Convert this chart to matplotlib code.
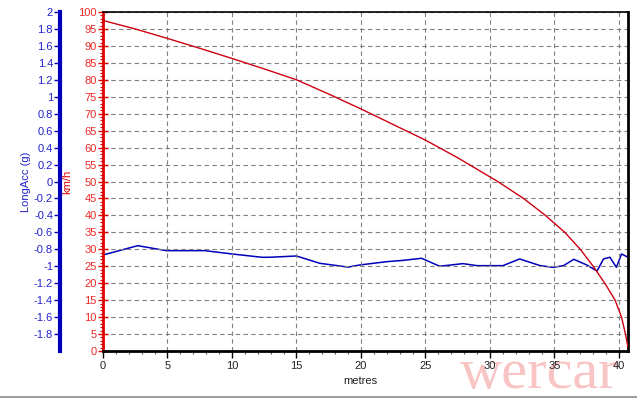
import matplotlib
matplotlib.use("Agg")
import matplotlib.pyplot as plt
from matplotlib.ticker import MultipleLocator, FixedLocator
import numpy as np

# ---- data ----
speed_x = [0, 2.5, 5, 7.5, 10, 12.5, 15, 17.5, 20, 22.5, 25, 27.5, 30.6, 32.6,
           34.3, 35.8, 37, 38, 38.9, 39.7, 40.2, 40.5, 40.7]
speed_kmh = [97.5, 95, 92.2, 89.3, 86.3, 83.2, 80, 75.8, 71.4, 66.8, 62.2, 57, 50, 45,
             40, 35, 30, 25, 20, 15, 10, 5, 1.2]

acc_x = [0, 2.7, 4.9, 7.9, 10, 12.3, 12.9, 15, 16.8, 19, 19.9, 22, 23.3, 24.7,
         26.1, 27.9, 29, 31, 32.3, 33.9, 34.9, 35.7, 36.5, 37.5, 38.3, 38.8,
         39.3, 39.8, 40.2, 40.7]
acc_g = [-0.867, -0.757, -0.816, -0.816, -0.855, -0.894, -0.894, -0.879, -0.965,
         -1.01, -0.985, -0.946, -0.93, -0.906, -1.0, -0.969, -0.993, -0.993,
         -0.914, -0.993, -1.013, -0.993, -0.918, -0.985, -1.056, -0.914,
         -0.894, -1.013, -0.855, -0.894]

x_ticks = [0, 5, 10, 15, 20, 25, 30, 35, 40]
kmh_ticks = list(range(0, 101, 5))
g_ticks = [round(v, 1) for v in np.arange(-1.8, 2.01, 0.2)]
g_labels = ["0" if abs(v) < 1e-9 else ("%g" % v) for v in g_ticks]

RED = "#e00000"
RED_TXT = "#ee2828"
BLUE = "#0000bb"
BLUE_TXT = "#2222cc"

plt.rcParams['font.family'] = ['Liberation Sans', 'DejaVu Sans']

fig = plt.figure(figsize=(6.37, 3.98), dpi=100)
ax = fig.add_axes([103/637, 1-351/398, (628-103)/637, (351-12)/398])

# speed axis (red)
ax.plot(speed_x, speed_kmh, color="#cc0010", lw=1.0, zorder=4)
ax.set_xlim(0, 40.7)
ax.set_ylim(0, 100)
ax.set_xticks(x_ticks)
ax.xaxis.set_minor_locator(MultipleLocator(1))
ax.set_yticks(kmh_ticks)
ax.yaxis.set_minor_locator(MultipleLocator(1))
ax.grid(True, which='major', color='#808080', linestyle=(0, (4, 3)), lw=0.8)
ax.tick_params(axis='y', which='major', direction='inout', length=7, width=1,
               colors=RED, labelcolor=RED_TXT, labelsize=8, pad=1)
ax.tick_params(axis='y', which='minor', direction='out', length=2, width=0.8, colors=RED)
ax.tick_params(axis='x', which='major', direction='out', length=5, width=1,
               colors='black', labelcolor='#222222', labelsize=8, pad=2)
ax.tick_params(axis='x', which='minor', direction='out', length=2.5, width=0.8,
               colors='#555555')
ax.spines['left'].set_color(RED)
ax.spines['left'].set_linewidth(2)
ax.spines['bottom'].set_linewidth(2)
ax.spines['top'].set_linewidth(1.2)
ax.spines['right'].set_linewidth(2)
ax.set_xlabel("metres", fontsize=8, color='#222222', labelpad=2)
ax.xaxis.set_label_coords(0.49, -0.075)
ax.set_ylabel("km/h", fontsize=8, color=RED, labelpad=0)
ax.yaxis.set_label_coords(-0.059, 0.50)

# acceleration axis (blue)
ax2 = ax.twinx()
ax2.plot(acc_x, acc_g, color=BLUE, lw=1.1, zorder=3)
ax2.set_ylim(-2, 2)
ax2.yaxis.set_ticks_position('left')
ax2.yaxis.set_label_position('left')
ax2.spines['left'].set_position(('outward', 43 * 72 / 100))
ax2.spines['left'].set_color(BLUE)
ax2.spines['left'].set_linewidth(3)
for s in ['right', 'top', 'bottom']:
    ax2.spines[s].set_visible(False)
ax2.yaxis.set_major_locator(FixedLocator(g_ticks))
ax2.set_yticklabels(g_labels)
ax2.yaxis.set_minor_locator(MultipleLocator(0.04))
ax2.tick_params(axis='y', which='major', direction='out', length=4, width=1,
                colors=BLUE, labelcolor=BLUE_TXT, labelsize=8, pad=1)
ax2.tick_params(axis='y', which='minor', direction='out', length=1.5, width=0.8, colors=BLUE)
ax2.set_ylabel("LongAcc (g)", fontsize=8, color=BLUE_TXT)
ax2.yaxis.set_label_coords(-0.138, 0.50)

ax.set_zorder(ax2.get_zorder() + 1)
ax.patch.set_visible(False)

# watermark
fig.text(539/637, 1 - 374/398, "wercar", fontsize=42, color='#f8c4c4',
         family=['Liberation Serif', 'DejaVu Serif'], ha='center', va='center',
         zorder=0)

# bottom border line
fig.add_artist(plt.Line2D([0, 1], [1.5/398, 1.5/398], color='#a0a0a0', lw=1.5))

fig.savefig("out.png", dpi=100)
